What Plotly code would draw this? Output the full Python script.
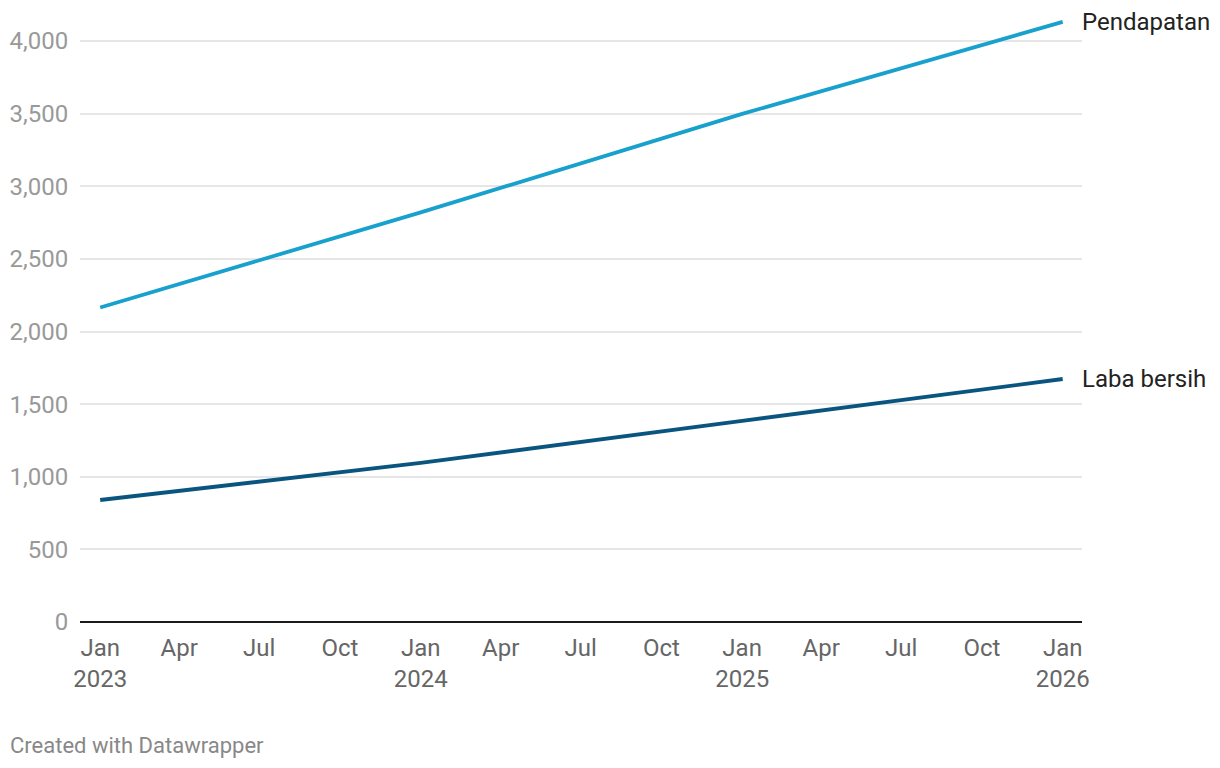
import plotly.graph_objects as go

dates = ["2023-01-01", "2024-01-01", "2025-01-01", "2026-01-01"]
pendapatan = [2165, 2820, 3498, 4132]
laba_bersih = [840, 1095, 1385, 1673]

series_names = ["Pendapatan", "Laba bersih"]
series_colors = ["#18a1cd", "#09557f"]

tick_dates = ["2023-01-01", "2023-04-01", "2023-07-01", "2023-10-01",
              "2024-01-01", "2024-04-01", "2024-07-01", "2024-10-01",
              "2025-01-01", "2025-04-01", "2025-07-01", "2025-10-01",
              "2026-01-01"]
tick_text = ["Jan<br>2023", "Apr", "Jul", "Oct",
             "Jan<br>2024", "Apr", "Jul", "Oct",
             "Jan<br>2025", "Apr", "Jul", "Oct",
             "Jan<br>2026"]
y_ticks = [0, 500, 1000, 1500, 2000, 2500, 3000, 3500, 4000]

W, H = 1212, 760
ML, MR, MT, MB = 72, 138, 0, 146
PW, PH = W - ML - MR, H - MT - MB

fig = go.Figure()
for name, vals, col in zip(series_names, [pendapatan, laba_bersih], series_colors):
    fig.add_trace(go.Scatter(x=dates, y=vals, mode="lines", name=name,
                             line=dict(color=col, width=3.8), hoverinfo="skip"))
    fig.add_annotation(x=dates[-1], y=vals[-1], text=name, showarrow=False,
                       xanchor="left", yanchor="middle", xshift=17,
                       font=dict(family="Roboto", size=24, color="#222222"))

fig.add_annotation(xref="paper", yref="paper", x=(0 - ML) / PW, y=-(737 - PH) / PH,
                   text="Created with Datawrapper", showarrow=False,
                   xanchor="left", yanchor="middle",
                   font=dict(family="Roboto", size=22, color="#888888"))

fig.update_layout(
    width=W, height=H,
    margin=dict(l=ML, r=MR, t=MT, b=MB),
    paper_bgcolor="white", plot_bgcolor="white",
    showlegend=False,
    font=dict(family="Roboto"),
    xaxis=dict(type="date", range=["2022-12-09", "2026-01-23"],
               tickvals=tick_dates, ticktext=tick_text,
               showgrid=False, zeroline=False, showline=False,
               ticks="outside", ticklen=4, tickcolor="rgba(0,0,0,0)",
               tickfont=dict(family="Roboto", size=24, color="#666666")),
    yaxis=dict(range=[0, PH / 0.14525], tickvals=y_ticks, tickformat=",",
               showgrid=True, gridcolor="#e6e6e6", gridwidth=1.5,
               zeroline=True, zerolinecolor="#1a1a1a", zerolinewidth=2,
               showline=False, ticks="outside", ticklen=6,
               tickcolor="rgba(0,0,0,0)",
               tickfont=dict(family="Roboto", size=24, color="#999999")),
)

fig.write_html("out.html")
